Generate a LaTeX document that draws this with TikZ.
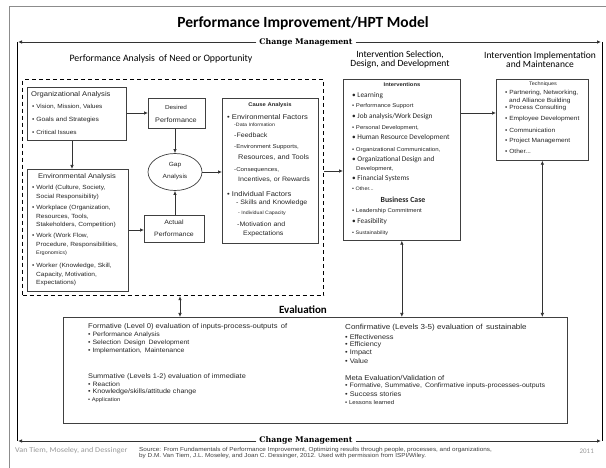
\documentclass[tikz,border=0pt]{standalone}
\usepackage{fontspec}
\setmainfont[FakeStretch=1.1]{Liberation Sans}
\newfontfamily\carl{Carlito}
\newfontfamily\carlw[FakeStretch=1.1]{Carlito}
\newfontfamily\dserif{DejaVu Serif}
\usetikzlibrary{arrows.meta,shapes.geometric,calc}
\newcommand\fsz[1]{\fontsize{#1}{#1}\selectfont}
\tikzset{
  box/.style={draw=black!75, line width=0.7pt, fill=white, anchor=north west, inner sep=0pt},
  tl/.style={anchor=west, inner sep=0pt, text=black!85},
  tc/.style={anchor=center, inner sep=0pt, text=black!85},
  arr/.style={-{Latex[length=4pt,width=3.5pt]}, line width=0.7pt, draw=black!80},
  darr/.style={{Latex[length=4pt,width=3.5pt]}-{Latex[length=4pt,width=3.5pt]}, line width=0.7pt, draw=black!80},
  cmlab/.style={fill=white, inner xsep=3pt, inner ysep=0.5pt, font=\dserif\bfseries\fsz{7.8}},
  hd/.style={anchor=center, inner sep=0pt, text=black},
}
\begin{document}
\begin{tikzpicture}[x=1pt,y=-1pt]
\useasboundingbox (0,0) rectangle (606,468);
\fill[white] (0,0) rectangle (606,468);
% outer slide border
\draw[black!45, line width=0.6pt] (9,468) -- (9,6) -- (606,6);
% title
\node[hd, font=\carl\bfseries\fsz{15.5}] (title) at (303,23) {Performance Improvement/HPT Model};
% change management frame
\coordinate (cmTL) at (17,42);
\coordinate (cmTR) at (602,42);
\coordinate (cmBL) at (17,441);
\coordinate (cmBR) at (602,441);
\draw[line width=0.9pt] (cmTL) -- (cmBL);
\draw[line width=0.9pt] (cmTR) -- (cmBR);
\node[cmlab] (cmtop) at (306,42) {Change Management};
\node[cmlab] (cmbot) at (306,440.5) {Change Management};
\draw[arr, line width=0.9pt] (cmtop.west |- cmTL) -- ($(cmTL)+(1,0)$);
\draw[arr, line width=0.9pt] (cmtop.east |- cmTR) -- ($(cmTR)+(-1,0)$);
\draw[arr, line width=0.9pt] (cmbot.west |- cmBL) -- ($(cmBL)+(1,0)$);
\draw[arr, line width=0.9pt] (cmbot.east |- cmBR) -- ($(cmBR)+(-1,0)$);
% section headings
\node[hd, font=\carl\fsz{9.8}] (h1) at (161,59) {Performance Analysis\, of Need or Opportunity};
\node[hd, font=\carl\fsz{9.5}, align=center] (h2) at (400,60) {Intervention Selection,\\[-0.5pt]Design, and Development};
\node[hd, font=\carl\fsz{9.5}, align=center] (h3) at (540,60) {Intervention Implementation\\[-0.5pt]and Maintenance};
% dashed analysis box
\node[draw=black, line width=1.2pt, dash pattern=on 4pt off 3pt, anchor=north west, inner sep=0pt, minimum width=301pt, minimum height=216pt] (dash) at (22,79) {};
% boxes
\node[box, minimum width=99pt, minimum height=53pt] (org) at (27,87) {};
\node[box, minimum width=57pt, minimum height=30pt] (des) at (148,98) {};
\node[box, minimum width=101pt, minimum height=122pt] (env) at (27,169) {};
\node[box, minimum width=60pt, minimum height=27pt] (act) at (144,215) {};
\node[draw=black!75, line width=0.7pt, fill=white, ellipse, minimum width=54pt, minimum height=37pt, inner sep=0pt] (gap) at (175,172) {};
\node[box, minimum width=96pt, minimum height=145pt] (cause) at (222,98) {};
\node[box, minimum width=117pt, minimum height=161pt] (int) at (343,79) {};
\node[box, minimum width=92pt, minimum height=81pt] (tech) at (496,79) {};
\node[box, minimum width=504pt, minimum height=106pt] (eval) at (63,317) {};
\node[hd, font=\carl\bfseries\fsz{11}] (evlab) at (303,310) {Evaluation};
% connectors
\coordinate (ox) at (72,0);
\coordinate (r1) at (0,113);
\coordinate (r2) at (0,171);
\coordinate (r3) at (0,230);
\coordinate (c1) at (180,0);
\draw[arr] (org.east |- r1) -- (des.west |- r1);
\draw[arr] (org.south -| ox) -- (env.north -| ox);
\draw[arr] (des.south -| gap.north) -- (gap.north);
\draw[arr] (act.north -| gap.south) -- (gap.south);
\draw[arr] (env.east |- r3) -- (act.west |- r3);
\draw[arr] (gap.east) -- (cause.west |- gap.east);
\draw[arr] (dash.east |- r2) -- (int.west |- r2);
\draw[arr] (int.east |- r1) -- (tech.west |- r1);
\draw[darr] (dash.south -| c1) -- (eval.north -| c1);
\draw[darr] (int.south) -- (eval.north -| int.south);
\draw[darr] (tech.south) -- (eval.north -| tech.south);
% small labels in boxes
\node[tc, font=\fsz{5.8}] (desA) at (176,107) {Desired};
\node[tc, font=\fsz{6.6}] (desB) at (176,120) {Performance};
\node[tc, font=\fsz{6}] (gapA) at (175,165) {Gap};
\node[tc, font=\fsz{6}] (gapB) at (175,177) {Analysis};
\node[tc, font=\fsz{6.3}] (actA) at (174,222) {Actual};
\node[tc, font=\fsz{6.3}] (actB) at (174,234) {Performance};
% organizational analysis
\node[tl, font=\fsz{6.9}] (o0) at (31,95) {Organizational Analysis};
\node[tl, font=\fsz{5.9}] (o1) at (32,107) {• Vision, Mission, Values};
\node[tl, font=\fsz{6.1}] (o2) at (32,120) {• Goals and Strategies};
\node[tl, font=\fsz{5.9}] (o3) at (32,132) {• Critical Issues};
% environmental analysis
\node[tc, font=\fsz{6.8}] (e0) at (77,177) {Environmental Analysis};
\node[tl, font=\fsz{6}] (e1) at (32,188) {• World (Culture, Society,};
\node[tl, font=\fsz{6}] (e2) at (36,197) {Social Responsibility)};
\node[tl, font=\fsz{6}] (e3) at (32,208) {• Workplace (Organization,};
\node[tl, font=\fsz{6}] (e4) at (36,217) {Resources, Tools,};
\node[tl, font=\fsz{6}] (e5) at (36,225) {Stakeholders, Competition)};
\node[tl, font=\fsz{6}] (e6) at (32,236) {• Work (Work Flow,};
\node[tl, font=\fsz{6}] (e7) at (36,245) {Procedure, Responsibilities,};
\node[tl, font=\fsz{5}] (e8) at (36,253) {Ergonomics)};
\node[tl, font=\fsz{6}] (e9) at (32,266) {• Worker (Knowledge, Skill,};
\node[tl, font=\fsz{6}] (e10) at (36,275) {Capacity, Motivation,};
\node[tl, font=\fsz{6}] (e11) at (36,283) {Expectations)};
% cause analysis
\node[tc, font=\bfseries\fsz{5.3}] (ca0) at (270,105) {Cause Analysis};
\node[tl, font=\fsz{6.9}] (ca1) at (227,117) {• Environmental Factors};
\node[tl, font=\fsz{4.8}] (ca2) at (234,125) {-Data Information};
\node[tl, font=\fsz{6.4}] (ca3) at (234,135) {-Feedback};
\node[tl, font=\fsz{5.6}] (ca4) at (234,147) {-Environment Supports,};
\node[tl, font=\fsz{6.7}] (ca5) at (238,158) {Resources, and Tools};
\node[tl, font=\fsz{5.6}] (ca6) at (234,170) {-Consequences,};
\node[tl, font=\fsz{6.4}] (ca7) at (238,180) {Incentives, or Rewards};
\node[tl, font=\fsz{6.9}] (ca8) at (227,194) {• Individual Factors};
\node[tl, font=\fsz{6.4}] (ca9) at (236,203) {- Skills and Knowledge};
\node[tl, font=\fsz{4.8}] (ca10) at (238,213) {- Individual Capacity};
\node[tl, font=\fsz{6.4}] (ca11) at (237,224) {-Motivation and};
\node[tl, font=\fsz{6.4}] (ca12) at (243,234) {Expectations};
% interventions
\node[tc, font=\bfseries\fsz{5.3}] (i0) at (402,85) {Interventions};
\node[tl, font=\carl\fsz{7.3}] (i1) at (352,96) {• Learning};
\node[tl, font=\fsz{5.5}] (i2) at (352,106) {• Performance Support};
\node[tl, font=\carl\fsz{7.3}] (i3) at (352,117) {• Job analysis/Work Design};
\node[tl, font=\fsz{5.5}] (i4) at (352,128) {• Personal Development,};
\node[tl, font=\carl\fsz{7.3}] (i5) at (352,138) {• Human Resource Development};
\node[tl, font=\fsz{5.5}] (i6) at (352,150) {• Organizational Communication,};
\node[tl, font=\carl\fsz{7.3}] (i7) at (352,160) {• Organizational Design and};
\node[tl, font=\fsz{5.5}] (i8) at (356,169) {Development,};
\node[tl, font=\carl\fsz{7.3}] (i9) at (352,179) {• Financial Systems};
\node[tl, font=\fsz{5}] (i10) at (352,189) {• Other...};
\node[tc, font=\carl\bfseries\fsz{7.8}] (i11) at (403,200) {Business Case};
\node[tl, font=\fsz{5.5}] (i12) at (352,211) {• Leadership Commitment};
\node[tl, font=\carl\fsz{7.3}] (i13) at (352,222) {• Feasibility};
\node[tl, font=\fsz{5}] (i14) at (352,233) {• Sustainability};
% techniques
\node[tc, font=\fsz{5}] (t0) at (543,84) {Techniques};
\node[tl, font=\fsz{6}] (t1) at (505,93) {• Partnering, Networking,};
\node[tl, font=\fsz{6}] (t2) at (509,101) {and Alliance Building};
\node[tl, font=\fsz{6}] (t3) at (505,108) {• Process Consulting};
\node[tl, font=\fsz{6}] (t4) at (505,119) {• Employee Development};
\node[tl, font=\fsz{6}] (t5) at (505,130) {• Communication};
\node[tl, font=\fsz{6}] (t6) at (505,141) {• Project Management};
\node[tl, font=\fsz{6}] (t7) at (505,151) {• Other...};
% evaluation left
\node[tl, font=\fsz{6.9}] (v1) at (88,327) {Formative (Level 0) evaluation of inputs-process-outputs\, of};
\node[tl, font=\fsz{6.3}] (v2) at (88,335) {• Performance Analysis};
\node[tl, font=\fsz{6.3}] (v3) at (88,343) {• Selection\, Design\, Development};
\node[tl, font=\fsz{6.3}] (v4) at (88,351) {• Implementation,\, Maintenance};
\node[tl, font=\fsz{6.7}] (v5) at (88,377) {Summative (Levels 1-2) evaluation of immediate};
\node[tl, font=\fsz{6.3}] (v6) at (88,384) {• Reaction};
\node[tl, font=\fsz{6.5}] (v7) at (88,392) {• Knowledge/skills/attitude change};
\node[tl, font=\fsz{5.3}] (v8) at (88,400) {• Application};
% evaluation right
\node[tl, font=\fsz{7.3}] (w1) at (345,328) {Confirmative (Levels 3-5) evaluation of\, sustainable};
\node[tl, font=\fsz{6.7}] (w2) at (345,337) {• Effectiveness};
\node[tl, font=\fsz{6.7}] (w3) at (345,345) {• Efficiency};
\node[tl, font=\fsz{6.7}] (w4) at (345,353) {• Impact};
\node[tl, font=\fsz{6.7}] (w5) at (345,361) {• Value};
\node[tl, font=\fsz{7}] (w6) at (345,378) {Meta Evaluation/Validation of};
\node[tl, font=\fsz{6.4}] (w7) at (345,386) {• Formative, Summative,\, Confirmative inputs-processes-outputs};
\node[tl, font=\fsz{6.7}] (w8) at (345,394) {• Success stories};
\node[tl, font=\fsz{5.6}] (w9) at (345,402) {• Lessons learned};
% footer
\node[tl, font=\carlw\fsz{7.4}, text=black!40] (f1) at (15,451) {Van Tiem, Moseley, and Dessinger};
\node[anchor=north west, inner sep=0pt, font=\fontsize{5.8}{6.5}\selectfont, align=left, text=black!75] (f2) at (139,447) {Source: From Fundamentals of Performance Improvement, Optimizing results through people, processes, and organizations,\\by D.M. Van Tiem, J.L. Moseley, and Joan C. Dessinger, 2012. Used with permission from ISPI/Wiley.};
\node[anchor=east, inner sep=0pt, font=\carl\fsz{7}, text=black!40] (f3) at (594,451) {2011};
\end{tikzpicture}
\end{document}
